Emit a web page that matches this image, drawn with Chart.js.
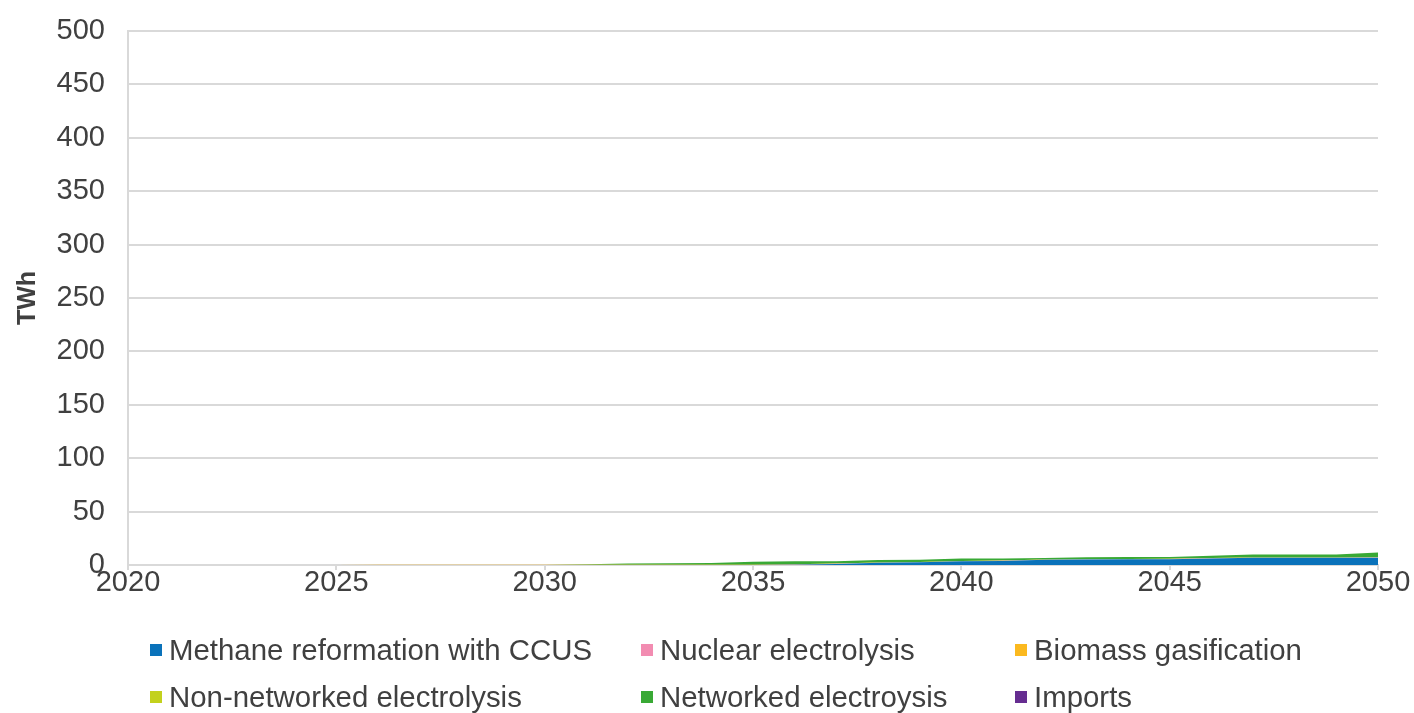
<!DOCTYPE html>
<html>
<head>
<meta charset="utf-8">
<script src="https://cdn.jsdelivr.net/npm/chart.js@4/dist/chart.umd.min.js"></script>
<style>
  html, body { margin: 0; padding: 0; background: #fff; }
  #wrap { position: relative; width: 1414px; height: 713px; }
  canvas { position: absolute; left: 0; top: 0; }
  .lg { position: absolute; font-family: "Liberation Sans", Arial, sans-serif; font-size: 29.4px; color: #404040; white-space: nowrap; line-height: 30px; }
  .lg i { position: absolute; width: 12px; height: 12px; top: 9px; }
</style>
</head>
<body>
<div id="wrap">
  <canvas id="c" width="1414" height="713"></canvas>
  <div id="legend"></div>
</div>
<script>
const years = [2020,2021,2022,2023,2024,2025,2026,2027,2028,2029,2030,2031,2032,2033,2034,2035,2036,2037,2038,2039,2040,2041,2042,2043,2044,2045,2046,2047,2048,2049,2050];
const methane    = [0,0,0,0,0,0,0,0,0,0,0,0,0,0,0,0,0.3,1.0,2.0,2.5,3.5,3.8,4.8,5.2,5.3,5.5,6.2,6.7,6.7,6.7,6.9];
const nuclear    = [0,0,0,0,0,0,0.1,0.1,0.1,0.1,0.1,0.1,0.1,0.1,0.1,0.1,0.1,0.1,0.1,0.1,0.1,0.1,0.1,0.1,0.1,0.1,0.1,0.1,0.1,0.1,0.1];
const biomass    = [0,0,0,0,0,0,0.2,0.2,0.2,0.2,0.2,0.2,0.2,0.2,0.2,0.2,0.2,0.2,0.2,0.2,0.2,0.2,0.2,0.2,0.2,0.2,0.2,0.2,0.2,0.2,0.2];
const nonNetworked = [0,0,0,0,0,0,0,0,0,0,0,0,0,0,0,0,0,0,0,0,0,0,0,0,0,0,0,0,0,0,0];
const networked  = [0,0,0,0,0,0,0,0,0,0,0,0.3,1.2,1.3,1.5,2.7,2.8,2.3,2.3,2.2,2.2,2.0,1.4,1.8,1.8,1.7,2.2,2.8,2.8,2.8,4.6];
const imports    = [0,0,0,0,0,0,0,0,0,0,0,0,0,0,0,0,0,0,0,0,0,0,0,0,0,0,0,0,0,0,0];
const seriesLabels = ["Methane reformation with CCUS","Nuclear electrolysis","Biomass gasification","Non-networked electrolysis","Networked electroysis","Imports"];
const seriesValues = [methane, nuclear, biomass, nonNetworked, networked, imports];
const seriesColors = ["#0a72ba","#f28cb1","#fbb91f","#c3d11d","#39a935","#662d91"];
const yTicks = [0,50,100,150,200,250,300,350,400,450,500];
const xTicks = [2020,2025,2030,2035,2040,2045,2050];

const FONT = '"Liberation Sans", Arial, sans-serif';
const TXT = '#404040';
const GRID = '#d9d9d9';

const datasets = seriesValues.map((vals, i) => ({
  label: seriesLabels[i],
  data: years.map((y, j) => ({x: y, y: vals[j]})),
  backgroundColor: seriesColors[i],
  borderColor: seriesColors[i],
  borderWidth: 0,
  pointRadius: 0,
  fill: i === 0 ? 'origin' : '-1',
  tension: 0
}));

new Chart(document.getElementById('c'), {
  type: 'line',
  data: { datasets },
  options: {
    responsive: false,
    animation: false,
    layout: { padding: { top: 31, right: 36, left: 0, bottom: 0 } },
    plugins: { legend: { display: false }, tooltip: { enabled: false } },
    scales: {
      x: {
        type: 'linear', min: 2020, max: 2050,
        afterBuildTicks: s => { s.ticks = xTicks.map(v => ({value: v})); },
        afterFit: s => { s.height = 148; s.paddingLeft = 0; s.paddingRight = 0; },
        grid: { drawOnChartArea: false, color: GRID, tickLength: 5, lineWidth: 2 },
        border: { color: GRID, width: 2 },
        ticks: { font: { family: FONT, size: 29, lineHeight: 1 }, color: TXT, padding: -2, maxRotation: 0, callback: v => String(v) }
      },
      y: {
        stacked: true, min: 0, max: 500,
        afterBuildTicks: s => { s.ticks = yTicks.map(v => ({value: v})); },
        afterFit: s => { s.width = 128; s.paddingTop = 0; s.paddingBottom = 0; },
        grid: { color: GRID, drawTicks: false, lineWidth: 2 },
        border: { color: GRID, width: 2 },
        ticks: { font: { family: FONT, size: 29 }, color: TXT, padding: 23 },
        title: { display: true, text: 'TWh', font: { family: FONT, size: 25, weight: 'bold' }, color: TXT, padding: { top: 13, bottom: 0 } }
      }
    }
  }
});

// HTML legend built from the series arrays
const legendPos = [[150, 635], [641, 635], [1015, 635], [150, 682], [641, 682], [1015, 682]];
const lg = document.getElementById('legend');
seriesLabels.forEach((lab, i) => {
  const d = document.createElement('div');
  d.className = 'lg';
  d.style.left = legendPos[i][0] + 'px';
  d.style.top = legendPos[i][1] + 'px';
  d.innerHTML = '<i style="background:' + seriesColors[i] + '"></i><span style="margin-left:19px">' + lab + '</span>';
  lg.appendChild(d);
});
</script>
</body>
</html>
